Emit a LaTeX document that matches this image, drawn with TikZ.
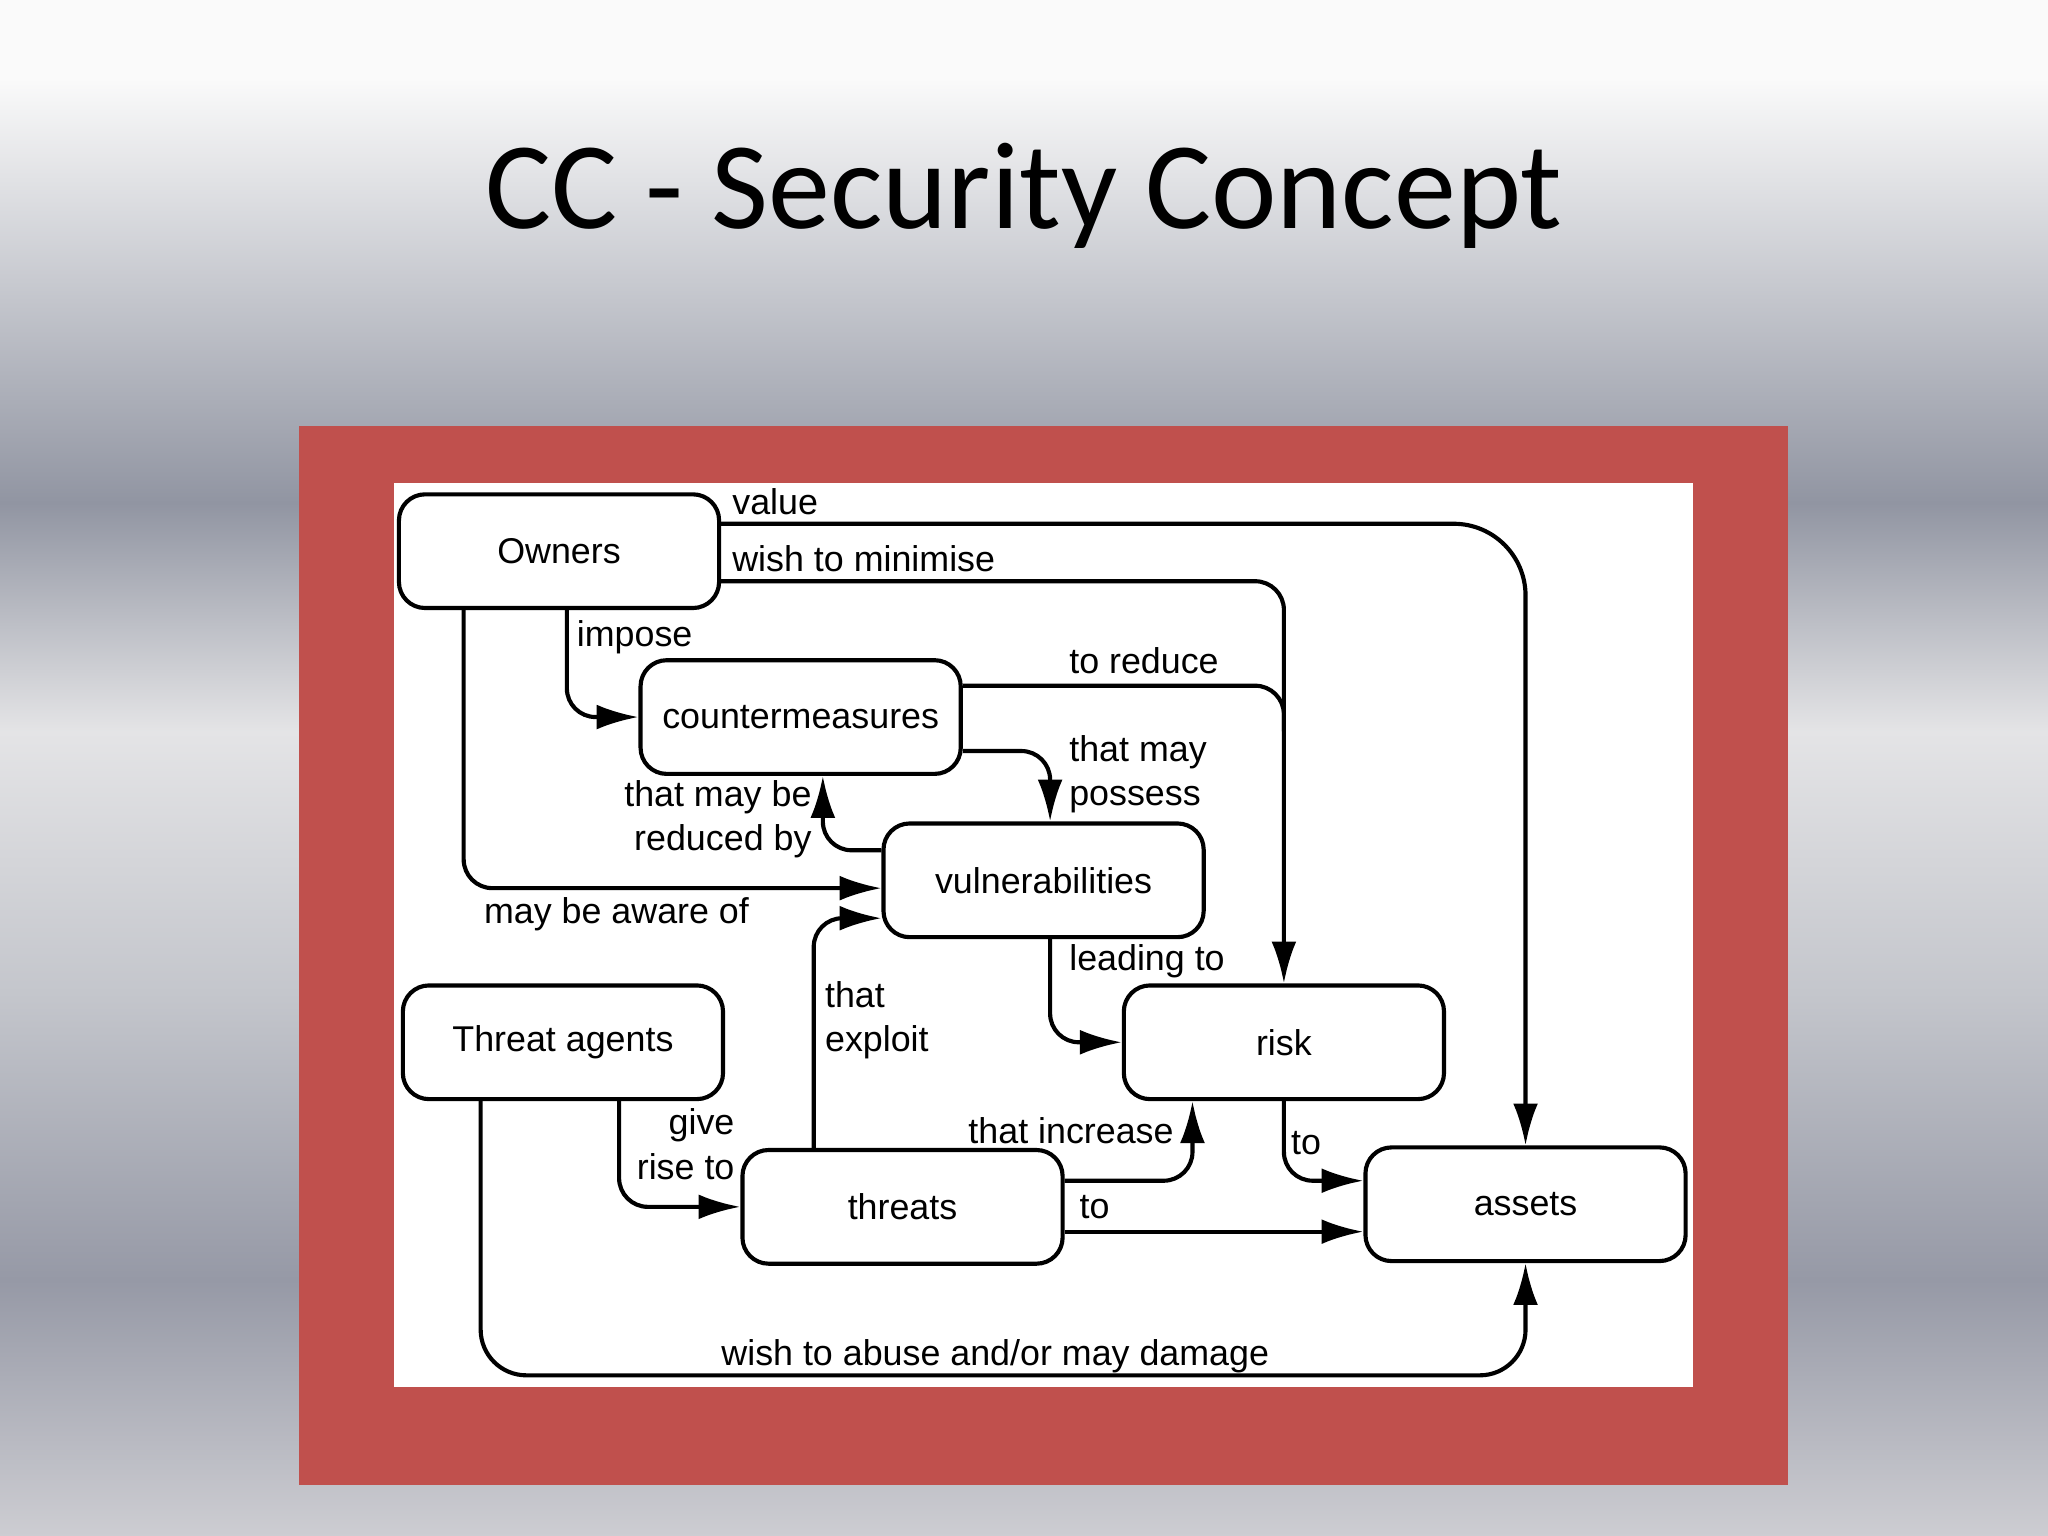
\documentclass[tikz,border=0pt]{standalone}
\usepackage{fontspec}
\setmainfont{Liberation Sans}
\newfontfamily\titlefont{Carlito}
\usetikzlibrary{arrows.meta}
\definecolor{bgA}{RGB}{250,250,250}
\definecolor{bgB}{RGB}{145,149,162}
\definecolor{bgC}{RGB}{228,228,230}
\definecolor{bgD}{RGB}{196,198,204}
\definecolor{bgE}{RGB}{150,153,166}
\definecolor{bgF}{RGB}{205,205,210}
\begin{document}
\begin{tikzpicture}[x=0.01cm,y=-0.01cm,
  box/.style={draw,line width=0.9pt,rounded corners=0.2cm,minimum width=2.45cm,minimum height=0.87cm,inner sep=0pt,font=\fontsize{7.8pt}{9pt}\selectfont},
  con/.style={line width=0.9pt,rounded corners=0.22cm,-{Latex[length=0.32cm,width=0.19cm]}},
  lab/.style={font=\fontsize{7.8pt}{9.6pt}\selectfont,inner sep=0pt}]
\useasboundingbox (0,0) rectangle (1568,1176);
\fill[top color=bgA,bottom color=bgA] (0,0) rectangle (1568,60);
\fill[top color=bgA,bottom color=bgB] (0,60) rectangle (1568,385);
\fill[top color=bgB,bottom color=bgC] (0,385) rectangle (1568,560);
\fill[top color=bgC,bottom color=bgD] (0,560) rectangle (1568,760);
\fill[top color=bgD,bottom color=bgE] (0,760) rectangle (1568,980);
\fill[top color=bgE,bottom color=bgF] (0,980) rectangle (1568,1176);
\node[font=\titlefont\fontsize{27pt}{32pt}\selectfont] (title) at (784,150) {CC - Security Concept};
\fill[fill={rgb,255:red,192;green,80;blue,77}] (229,326) rectangle (1369,1137);
\fill[white] (302,370) rectangle (1296,1062);
\node[box] (own) at (428,422) {Owners};
\node[box] (cm) at (613,549) {countermeasures};
\node[box] (vul) at (799,674) {vulnerabilities};
\node[box] (ta) at (431,798) {Threat agents};
\node[box] (risk) at (983,798) {risk};
\node[box] (thr) at (691,924) {threats};
\node[box] (ass) at (1168,922) {assets};
% value
\draw[con,rounded corners=0.55cm] (own.east |- 0,401) -- (1168,401) -- (ass.north);
\node[lab,anchor=west] at (560,384) {value};
% wish to minimise
\draw[con] (own.east |- 0,445) -- (983,445) -- (risk.north);
\node[lab,anchor=west] at (560,428) {wish to minimise};
% impose
\draw[con] (own.south -| 434,0) -- (434,549) -- (cm.west);
\node[lab,anchor=west] at (441,488) {impose};
% to reduce
\draw[line width=0.9pt,rounded corners=0.22cm] (cm.east |- 0,525) -- (983,525) -- (983,560);
\node[lab,anchor=west] at (818,506) {to reduce};
% that may possess
\draw[con] (cm.east |- 0,575) -- (804,575) -- (vul.north -| 804,0);
\node[lab,anchor=west,align=left] at (818,593) {that may\\possess};
% reduced by
\draw[con] (vul.west |- 0,651) -- (630,651) -- (cm.south -| 630,0);
\node[lab,anchor=east,align=right] at (622,627) {that may be\\reduced by};
% may be aware of
\draw[con] (own.south -| 355,0) -- (355,680) -- (vul.west |- 0,680);
\node[lab] at (472,700) {may be aware of};
% that exploit
\draw[con] (thr.north -| 623,0) -- (623,703) -- (vul.west |- 0,703);
\node[lab,anchor=west,align=left] at (631,781) {that\\exploit};
% leading to
\draw[con] (vul.south -| 804,0) -- (804,798) -- (risk.west);
\node[lab,anchor=west] at (818,736) {leading to};
% give rise to
\draw[con] (ta.south -| 474,0) -- (474,924) -- (thr.west);
\node[lab,anchor=east,align=right] at (563,876) {give\\rise to};
% that increase
\draw[con] (thr.east |- 0,904) -- (913,904) -- (risk.south -| 913,0);
\node[lab] at (820,866) {that increase};
% to threats->assets
\draw[con] (thr.east |- 0,943) -- (ass.west |- 0,943);
\node[lab] at (838,924) {to};
% to risk->assets
\draw[con] (risk.south) -- (983,904) -- (ass.west |- 0,904);
\node[lab] at (1000,875) {to};
% wish to abuse
\draw[con,rounded corners=0.35cm] (ta.south -| 368,0) -- (368,1053) -- (1168,1053) -- (ass.south);
\node[lab] at (762,1038) {wish to abuse and/or may damage};
\end{tikzpicture}
\end{document}
